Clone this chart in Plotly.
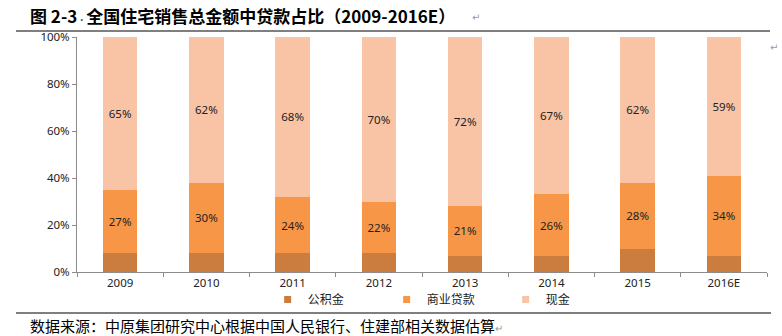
import plotly.graph_objects as go

years = ["2009", "2010", "2011", "2012", "2013", "2014", "2015", "2016E"]
gjj = [8, 8, 8, 8, 7, 7, 10, 7]          # 公积金
syd = [27, 30, 24, 22, 21, 26, 28, 34]   # 商业贷款
cash = [65, 62, 68, 70, 72, 67, 62, 59]  # 现金
y_ticks = [0, 20, 40, 60, 80, 100]

names = ["公积金", "商业贷款", "现金"]
colors = ["#CB7D40", "#F79646", "#F9C3A5"]
series = [gjj, syd, cash]
show_text = [False, True, True]

latin = "Noto Sans, DejaVu Sans, sans-serif"
cjk = "Noto Sans CJK SC, sans-serif"

fig = go.Figure()
for name, col, vals, st in zip(names, colors, series, show_text):
    fig.add_trace(go.Bar(
        x=years, y=vals, name=name, marker=dict(color=col, line=dict(width=0)),
        width=0.4, showlegend=False,
        text=[f"{v}%" for v in vals] if st else None,
        textposition="inside" if st else "none",
        insidetextanchor="middle", textangle=0,
        textfont=dict(size=11.5, color="#222222", family=latin),
        hoverinfo="skip",
    ))
for name, col in zip(names, colors):
    fig.add_trace(go.Scatter(
        x=[None], y=[None], mode="markers", name=name,
        marker=dict(symbol="square", size=7, color=col),
    ))

fig.update_layout(
    width=782, height=336,
    margin=dict(l=77, r=15, t=37, b=64),
    barmode="stack",
    plot_bgcolor="white", paper_bgcolor="white",
    uniformtext=dict(mode="show", minsize=8),
    font=dict(family=latin, size=11.5, color="#333333"),
    xaxis=dict(
        type="category", showline=True, linecolor="#8c8c8c", linewidth=1,
        ticks="outside", tickson="boundaries", ticklen=4, tickcolor="#8c8c8c",
        showgrid=False, tickfont=dict(size=11.5, color="#222222", family=latin),
    ),
    yaxis=dict(
        range=[0, 100], tickvals=y_ticks, ticktext=[f"{v}%" for v in y_ticks],
        showline=True, linecolor="#8c8c8c", linewidth=1,
        ticks="outside", ticklen=4, tickcolor="#8c8c8c", showgrid=False,
        tickfont=dict(size=11.5, color="#222222", family=latin),
        zeroline=False,
    ),
    legend=dict(
        orientation="h", x=0.535, xanchor="center", y=-0.055, yanchor="top",
        font=dict(size=12, family=cjk, color="#222222"),
        itemwidth=30, entrywidth=74, traceorder="normal",
        bgcolor="rgba(0,0,0,0)",
    ),
    showlegend=True,
)

# title
fig.add_annotation(
    xref="paper", yref="paper", x=-77/690 + 28/690, y=1 + (37 - 16)/235,
    xanchor="left", yanchor="middle", showarrow=False,
    text="<b>图 2-3</b><span style='font-size:9px;color:#555555'>·</span><b>全国住宅销售总金额中贷款占比（2009-2016E）</b>",
    font=dict(size=17, family=cjk, color="#000000"),
)
fig.add_annotation(
    xref="paper", yref="paper", x=(470 - 77)/690, y=1 + (37 - 17)/235,
    xanchor="left", yanchor="middle", showarrow=False, text="↵",
    font=dict(size=10, color="#999999"),
)
fig.add_annotation(
    xref="paper", yref="paper", x=(768 - 77)/690, y=1 - (47 - 37)/235,
    xanchor="left", yanchor="middle", showarrow=False, text="↵",
    font=dict(size=10, color="#999999"),
)
# source
fig.add_annotation(
    xref="paper", yref="paper", x=(28 - 77)/690, y=-(325 - 272)/235,
    xanchor="left", yanchor="middle", showarrow=False,
    text="数据来源：中原集团研究中心根据中国人民银行、住建部相关数据估算<span style='color:#999999;font-size:10px'>↵</span>",
    font=dict(size=15, family=cjk, color="#000000"),
)
# rule lines
fig.add_shape(type="line", xref="paper", yref="paper",
              x0=(16 - 77)/690, x1=(770 - 77)/690, y0=1 + (37 - 31)/235, y1=1 + (37 - 31)/235,
              line=dict(color="#000000", width=1.2))
fig.add_shape(type="line", xref="paper", yref="paper",
              x0=(16 - 77)/690, x1=(771 - 77)/690, y0=-(313 - 272)/235, y1=-(313 - 272)/235,
              line=dict(color="#000000", width=1.2))

fig.write_html("out.html")
